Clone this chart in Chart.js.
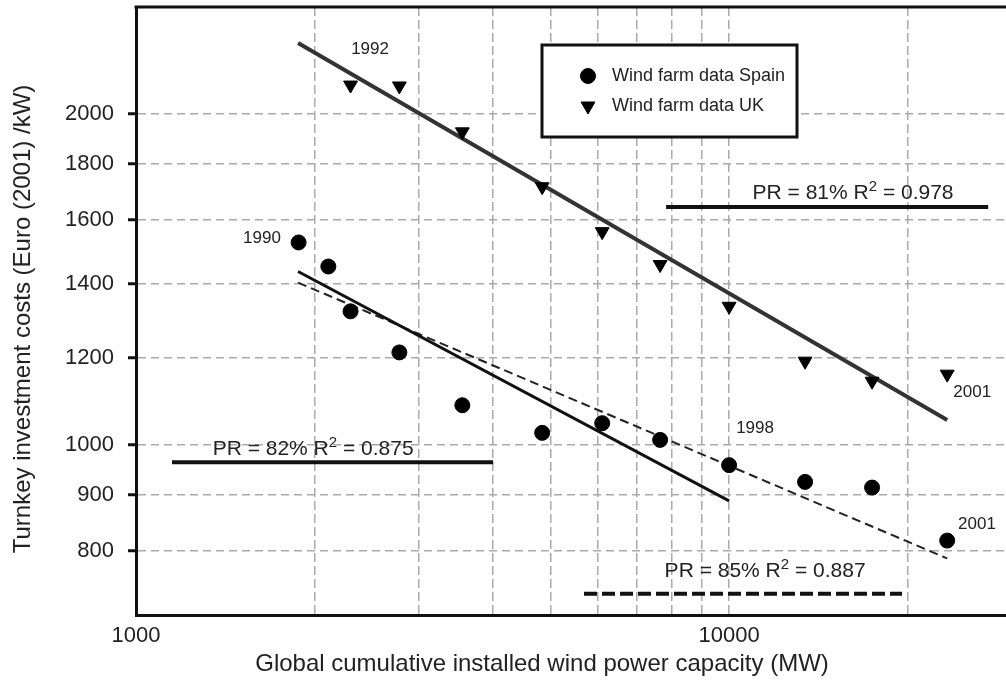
<!DOCTYPE html>
<html>
<head>
<meta charset="utf-8">
<script src="https://cdn.jsdelivr.net/npm/chart.js@4.4.0/dist/chart.umd.min.js"></script>
<style>
  html, body { margin: 0; padding: 0; background: #fff; }
  canvas { display: block; }
</style>
</head>
<body>
<canvas id="chart-learning" width="1006" height="681"></canvas>
<script>
// measured points (MW, Euro/kW)
const spainCapacity = [1880, 2110, 2300, 2780, 3550, 4840, 6110, 7650, 10000, 13430, 17420, 23320];
const spainCost = [1527, 1452, 1322, 1213, 1086, 1025, 1046, 1010, 958, 925, 914, 818];
const ukCapacity = [2300, 2780, 3550, 4840, 6110, 7650, 10000, 13430, 17420, 23320];
const ukCost = [2123, 2119, 1925, 1716, 1562, 1458, 1336, 1191, 1142, 1159];

// experience curve fits (end points)
const ukFitCapacity = [1876, 23320];
const ukFitCost = [2318, 1053];
const spainFitCapacity = [1876, 10000];
const spainFitCost = [1437, 889];
const spainFit2Capacity = [1876, 23320];
const spainFit2Cost = [1404, 788];

// key lines under the PR labels
const pr81Capacity = [7830, 27340];
const pr81Cost = [1645, 1645];
const pr82Capacity = [1150, 4000];
const pr82Cost = [964, 964];
const pr85Capacity = [5693, 19570];
const pr85Cost = [732, 732];

// ticks
const yTicks = [800, 900, 1000, 1200, 1400, 1600, 1800, 2000];
const xTicks = [1000, 2000, 3000, 4000, 5000, 6000, 7000, 8000, 9000, 10000, 20000];
const xTickLabels = [1000, 10000];

const xTitle = "Global cumulative installed wind power capacity (MW)";
const yTitle = "Turnkey investment costs (Euro (2001) /kW)";

const yearNotes = [
  { text: "1992", x: 2481, y: 2289 },
  { text: "1990", x: 1631, y: 1540 },
  { text: "1998", x: 11060, y: 1035 },
  { text: "2001", x: 25700, y: 1116 },
  { text: "2001", x: 26180, y: 846 },
];
const prNotes = [
  { parts: ["PR = 81% R", "2", " = 0.978"], x: 16180, y: 1694 },
  { parts: ["PR = 82% R", "2", " = 0.875"], x: 1989, y: 991 },
  { parts: ["PR = 85% R", "2", " = 0.887"], x: 11500, y: 768 },
];

const FONT = '"Liberation Sans", Arial, sans-serif';

const pts = (xs, ys) => xs.map((x, i) => ({ x: x, y: ys[i] }));

const lineSet = (xs, ys, color, width, dash) => ({
  type: "line",
  data: pts(xs, ys),
  borderColor: color,
  borderWidth: width,
  borderDash: dash || [],
  pointRadius: 0,
  fill: false,
  showLine: true,
});

const notesPlugin = {
  id: "notes",
  afterDatasetsDraw(chart) {
    const ctx = chart.ctx;
    const xs = chart.scales.x;
    const ys = chart.scales.y;
    ctx.save();
    ctx.fillStyle = "#222";
    ctx.textBaseline = "middle";
    ctx.textAlign = "center";
    ctx.font = "17px " + FONT;
    yearNotes.forEach((n) => {
      ctx.fillText(n.text, xs.getPixelForValue(n.x), ys.getPixelForValue(n.y));
    });

    prNotes.forEach((n) => {
      const cx = xs.getPixelForValue(n.x);
      const cy = ys.getPixelForValue(n.y);
      ctx.font = "21px " + FONT;
      const w0 = ctx.measureText(n.parts[0]).width;
      const w2 = ctx.measureText(n.parts[2]).width;
      ctx.font = "15px " + FONT;
      const w1 = ctx.measureText(n.parts[1]).width;
      let x = cx - (w0 + w1 + w2) / 2;
      ctx.textAlign = "left";
      ctx.font = "21px " + FONT;
      ctx.fillText(n.parts[0], x, cy);
      ctx.font = "15px " + FONT;
      ctx.fillText(n.parts[1], x + w0, cy - 6);
      ctx.font = "21px " + FONT;
      ctx.fillText(n.parts[2], x + w0 + w1, cy);
    });

    // legend box
    const bx = 542, by = 45, bw = 255, bh = 92;
    ctx.fillStyle = "#fff";
    ctx.fillRect(bx, by, bw, bh);
    ctx.lineWidth = 3;
    ctx.strokeStyle = "#111";
    ctx.strokeRect(bx, by, bw, bh);
    const items = chart.data.datasets.filter((d) => d.inLegend);
    items.forEach((d, i) => {
      const y = by + 31 + i * 30;
      ctx.fillStyle = "#000";
      ctx.strokeStyle = "#000";
      ctx.lineWidth = 1;
      Chart.helpers.drawPoint(ctx, {
        pointStyle: d.pointStyle,
        rotation: d.rotation || 0,
        radius: d.pointRadius,
        borderWidth: 1,
      }, bx + 46, y);
      ctx.fillStyle = "#222";
      ctx.font = "18px " + FONT;
      ctx.textAlign = "left";
      ctx.fillText(d.label, bx + 70, y);
    });

    // top frame line
    const a = chart.chartArea;
    ctx.strokeStyle = "#111";
    ctx.lineWidth = 3;
    ctx.beginPath();
    ctx.moveTo(a.left - 1.5, a.top);
    ctx.lineTo(a.right, a.top);
    ctx.stroke();

    // axis titles
    ctx.fillStyle = "#222";
    ctx.font = "24px " + FONT;
    ctx.textAlign = "center";
    ctx.fillText(xTitle, 542, 664);
    ctx.translate(23, 319);
    ctx.rotate(-Math.PI / 2);
    ctx.fillText(yTitle, 0, 0);
    ctx.restore();
  },
};

new Chart(document.getElementById("chart-learning").getContext("2d"), {
  type: "scatter",
  data: {
    datasets: [
      {
        label: "Wind farm data Spain",
        inLegend: true,
        data: pts(spainCapacity, spainCost),
        pointStyle: "circle",
        pointRadius: 7.5,
        backgroundColor: "#000",
        borderColor: "#000",
      },
      {
        label: "Wind farm data UK",
        inLegend: true,
        data: pts(ukCapacity, ukCost),
        pointStyle: "triangle",
        rotation: 180,
        pointRadius: 8,
        backgroundColor: "#000",
        borderColor: "#000",
      },
      lineSet(ukFitCapacity, ukFitCost, "#333", 4),
      lineSet(spainFitCapacity, spainFitCost, "#111", 3),
      lineSet(spainFit2Capacity, spainFit2Cost, "#222", 2, [9, 5]),
      lineSet(pr81Capacity, pr81Cost, "#111", 4),
      lineSet(pr82Capacity, pr82Cost, "#111", 4),
      lineSet(pr85Capacity, pr85Cost, "#111", 4, [13, 5]),
    ],
  },
  options: {
    responsive: false,
    animation: false,
    layout: { autoPadding: false, padding: { top: 7, right: 0, left: 0, bottom: 0 } },
    plugins: {
      legend: { display: false },
      tooltip: { enabled: false },
    },
    scales: {
      x: {
        type: "logarithmic",
        min: 1000,
        max: 29300,
        afterBuildTicks: (scale) => {
          scale.ticks = xTicks.map((v) => ({ value: v }));
        },
        afterFit: (scale) => {
          scale.height = 66;
          scale.paddingLeft = 0;
          scale.paddingRight = 0;
        },
        ticks: {
          autoSkip: false,
          maxRotation: 0,
          padding: 8,
          color: "#222",
          font: { family: FONT, size: 22 },
          callback: (value) => (xTickLabels.includes(value) ? String(value) : ""),
        },
        grid: {
          color: "#aaa",
          lineWidth: 1.5,
          drawTicks: false,
        },
        border: { display: true, color: "#111", width: 3, dash: [9, 4] },
      },
      y: {
        type: "logarithmic",
        min: 700,
        max: 2500,
        afterBuildTicks: (scale) => {
          scale.ticks = yTicks.map((v) => ({ value: v }));
        },
        afterFit: (scale) => {
          scale.width = 136;
          scale.paddingTop = 0;
          scale.paddingBottom = 0;
        },
        ticks: {
          autoSkip: false,
          padding: 14,
          color: "#222",
          font: { family: FONT, size: 22 },
          callback: (value) => String(value),
        },
        grid: {
          color: "#aaa",
          lineWidth: 1.5,
          tickColor: "#111",
          tickWidth: 3,
          tickLength: 8,
        },
        border: { display: true, color: "#111", width: 3, dash: [8, 5] },
      },
    },
  },
  plugins: [notesPlugin],
});
</script>
</body>
</html>
